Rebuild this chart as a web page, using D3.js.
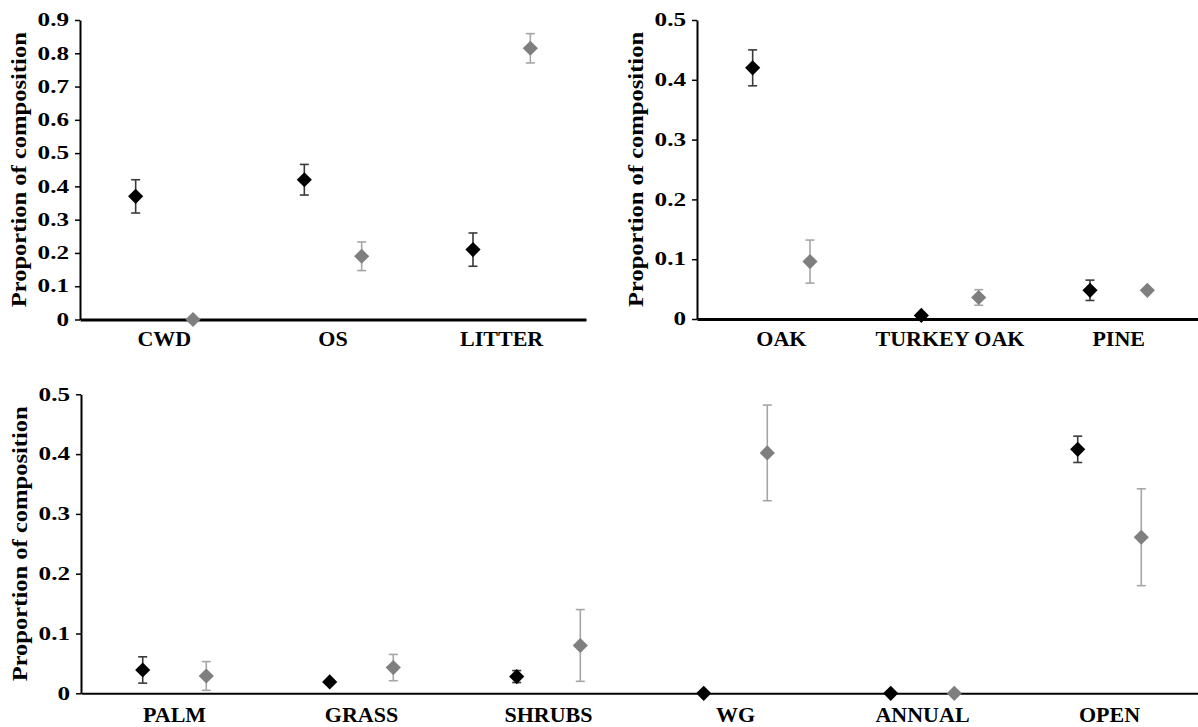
<!DOCTYPE html>
<html>
<head>
<meta charset="utf-8">
<script src="https://cdn.jsdelivr.net/npm/d3@7"></script>
<style>
  body { margin: 0; background: #fff; }
  svg { display: block; font-family: "Liberation Serif", "Times New Roman", serif; font-weight: bold; }
  .domain { stroke: #000; }
  .tick line { stroke: #000; stroke-width: 1.5; }
</style>
</head>
<body>
<div id="container"></div>
<script>
// top left panel
var topLeftCats = ["CWD", "OS", "LITTER"];
var topLeftBlack = [0.37, 0.42, 0.21];
var topLeftBlackErr = [0.05, 0.046, 0.05];
var topLeftGray = [0.0, 0.19, 0.815];
var topLeftGrayErr = [0, 0.043, 0.044];
var topLeftTicks = [0, 0.1, 0.2, 0.3, 0.4, 0.5, 0.6, 0.7, 0.8, 0.9];

// top right panel
var topRightCats = ["OAK", "TURKEY OAK", "PINE"];
var topRightBlack = [0.42, 0.006, 0.048];
var topRightBlackErr = [0.03, 0, 0.017];
var topRightGray = [0.096, 0.036, 0.048];
var topRightGrayErr = [0.036, 0.013, 0];
var topRightTicks = [0, 0.1, 0.2, 0.3, 0.4, 0.5];

// bottom panel
var bottomCats = ["PALM", "GRASS", "SHRUBS", "WG", "ANNUAL", "OPEN"];
var bottomBlack = [0.039, 0.019, 0.028, 0, 0, 0.408];
var bottomBlackErr = [0.022, 0, 0.01, 0, 0, 0.022];
var bottomGray = [0.029, 0.043, 0.08, 0.402, 0, 0.261];
var bottomGrayErr = [0.024, 0.022, 0.06, 0.08, 0, 0.081];
var bottomTicks = [0, 0.1, 0.2, 0.3, 0.4, 0.5];

var yTitle = "Proportion of composition";

var seriesStyle = {
  black: {fill: "#000", bar: "#3a3a3a"},
  gray: {fill: "#7f7f7f", bar: "#a6a6a6"}
};

var chart = d3.select("#container").
append("svg").
attr("width", 1198).
attr("height", 727);

function tickFormat(d) {
  return d === 0 ? "0" : d3.format(".1f")(d);
}

function drawPanel(p) {
  var g = chart.append("g");

  var x = d3.scaleBand().
  domain(p.cats).
  range([p.left, p.right]);
  var bw = x.bandwidth();
  var xs = d3.scalePoint().
  domain(["black", "gray"]).
  range([-0.17 * bw, 0.17 * bw]);
  var y = d3.scaleLinear().
  domain([0, p.ticks[p.ticks.length - 1]]).
  range([p.bottom, p.top]);

  // y axis, tick labels are drawn wide like in the original
  var yAxis = g.append("g").
  attr("transform", "translate(" + p.left + ",0)").
  call(d3.axisLeft(y).tickValues(p.ticks).tickFormat(tickFormat).tickSize(5).tickSizeOuter(0)).
  attr("font-family", null);
  yAxis.select(".domain").attr("stroke-width", 2);
  yAxis.selectAll("text").
  attr("x", -11 / 1.4).
  attr("transform", "scale(1.4,1)").
  style("font-size", "18px").
  attr("fill", "#000");

  // x axis
  var xAxis = g.append("g").
  attr("transform", "translate(0," + p.bottom + ")").
  call(d3.axisBottom(x).tickSize(0).tickSizeOuter(0).tickPadding(p.labelPad)).
  attr("font-family", null);
  xAxis.select(".domain").attr("stroke-width", p.xStroke);
  xAxis.selectAll("text").
  style("font-size", p.labelSize + "px").
  attr("fill", "#000");

  // axis title
  g.append("text").
  attr("transform", "translate(" + (p.left - 54) + "," + (p.top + p.bottom) / 2 + ") rotate(-90) scale(1.17,1)").
  attr("text-anchor", "middle").
  style("font-size", "21px").
  text(yTitle);

  var series = [
  {key: "black", vals: p.black, errs: p.blackErr},
  {key: "gray", vals: p.gray, errs: p.grayErr}];

  series.forEach(function (s) {
    var pts = p.cats.map(function (c, i) {
      return {cat: c, v: s.vals[i], e: s.errs[i]};
    });
    var cx = function (d) {return x(d.cat) + bw / 2 + xs(s.key);};
    var bars = g.append("g").
    attr("stroke", seriesStyle[s.key].bar).
    attr("stroke-width", 1.6).
    selectAll("g").
    data(pts.filter(function (d) {return d.e > 0;})).
    enter().
    append("g");
    bars.append("line").
    attr("x1", cx).attr("x2", cx).
    attr("y1", function (d) {return y(d.v + d.e);}).
    attr("y2", function (d) {return y(Math.max(0, d.v - d.e));});
    [1, -1].forEach(function (sign) {
      bars.append("line").
      attr("x1", function (d) {return cx(d) - 4.5;}).
      attr("x2", function (d) {return cx(d) + 4.5;}).
      attr("y1", function (d) {return y(d.v + sign * d.e);}).
      attr("y2", function (d) {return y(d.v + sign * d.e);});
    });

    g.append("g").
    selectAll("path").
    data(pts).
    enter().
    append("path").
    attr("d", d3.symbol(d3.symbolSquare, 115)).
    attr("fill", seriesStyle[s.key].fill).
    attr("transform", function (d) {
      return "translate(" + cx(d) + "," + y(d.v) + ") rotate(45)";
    });
  });
}

drawPanel({cats: topLeftCats, black: topLeftBlack, blackErr: topLeftBlackErr,
  gray: topLeftGray, grayErr: topLeftGrayErr, ticks: topLeftTicks,
  left: 80, right: 586, top: 20, bottom: 319.5, labelSize: 22, labelPad: 11, xStroke: 3});

drawPanel({cats: topRightCats, black: topRightBlack, blackErr: topRightBlackErr,
  gray: topRightGray, grayErr: topRightGrayErr, ticks: topRightTicks,
  left: 697, right: 1203, top: 20, bottom: 319, labelSize: 22, labelPad: 11, xStroke: 3});

drawPanel({cats: bottomCats, black: bottomBlack, blackErr: bottomBlackErr,
  gray: bottomGray, grayErr: bottomGrayErr, ticks: bottomTicks,
  left: 81, right: 1203, top: 394.3, bottom: 693.3, labelSize: 22, labelPad: 13, xStroke: 2});
</script>
</body>
</html>
